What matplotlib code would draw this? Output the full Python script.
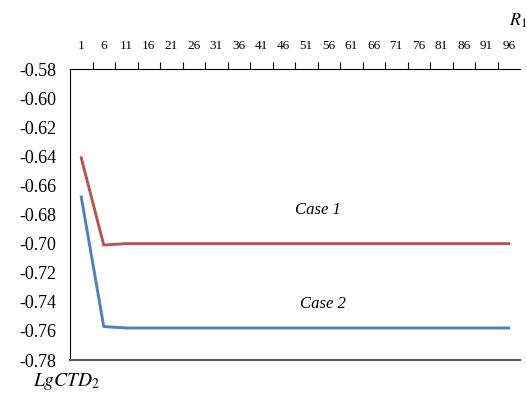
import numpy as np
import matplotlib.pyplot as plt

plt.rcParams['font.family'] = 'Liberation Serif'
plt.rcParams['mathtext.fontset'] = 'stix'

# category labels on the top axis
r1_labels = [1, 6, 11, 16, 21, 26, 31, 36, 41, 46, 51, 56, 61, 66, 71, 76, 81, 86, 91, 96]

# LgCTD2 values
case1 = [-0.641, -0.701, -0.700, -0.700, -0.700, -0.700, -0.700, -0.700, -0.700, -0.700,
         -0.700, -0.700, -0.700, -0.700, -0.700, -0.700, -0.700, -0.700, -0.700, -0.700]
case2 = [-0.668, -0.757, -0.758, -0.758, -0.758, -0.758, -0.758, -0.758, -0.758, -0.758,
         -0.758, -0.758, -0.758, -0.758, -0.758, -0.758, -0.758, -0.758, -0.758, -0.758]

yticks = np.arange(-0.78, -0.579, 0.02)

x = np.arange(1, len(r1_labels) + 1)

fig = plt.figure(figsize=(5.27, 3.94), dpi=100)
ax = fig.add_axes([70/527, 1 - 360/394, 450/527, 291/394])

ax.plot(x, case1, color='#C0504D', lw=2.1)
ax.plot(x, case2, color='#4F81BD', lw=2.1)

ax.set_xlim(0.5, len(r1_labels) + 0.5)
ax.set_ylim(-0.78, -0.58)

# category axis on top, tick marks between categories
ax.xaxis.tick_top()
ax.set_xticks(x[:-1] + 0.5)
ax.set_xticklabels([])
ax.tick_params(axis='x', which='major', direction='out', length=5, width=0.8, color='black')
ax.set_xticks(x, minor=True)
ax.set_xticklabels([str(v) for v in r1_labels], minor=True)
ax.tick_params(axis='x', which='minor', length=0, labelsize=9.5, pad=12, top=True, labeltop=True,
               bottom=False, labelbottom=False)

ax.set_yticks(yticks)
ax.set_yticklabels(['%.2f' % v for v in yticks])
ax.tick_params(axis='y', length=0, labelsize=13, pad=10)

ax.spines['right'].set_visible(False)
ax.spines['top'].set_color('black')
ax.spines['left'].set_color('black')
ax.spines['bottom'].set_color('#595959')
ax.spines['bottom'].set_linewidth(1.5)

ax.text(11.5, -0.677, 'Case 1', style='italic', fontsize=12, ha='center', va='center')
ax.text(11.74, -0.7414, 'Case 2', style='italic', fontsize=12, ha='center', va='center')

fig.text(527/527, 1 - 21/394, r'$\mathit{R}_{\mathit{1}}$', ha='right', va='center', fontsize=13)
fig.text(33/527, 1 - 382/394, r'$\mathit{LgCTD}_{\mathit{2}}$', ha='left', va='center', fontsize=14)

fig.savefig('out.png', dpi=100)
